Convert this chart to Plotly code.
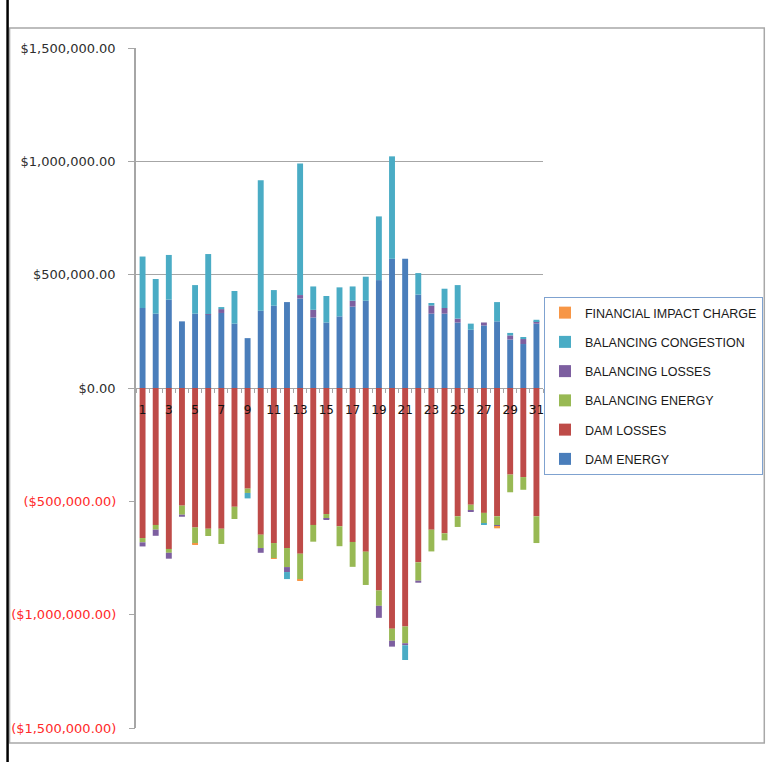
import plotly.graph_objects as go

days = list(range(1, 32))

dam_energy = [353000, 328000, 390000, 294000, 328000, 323000, 331000, 284000, 220000, 341000,
              363000, 379000, 395000, 311000, 289000, 316000, 359000, 385000, 476000, 570000,
              570000, 412000, 328000, 328000, 289000, 257000, 276000, 294000, 214000, 194000, 284000]
dam_losses = [-662000, -604000, -710000, -519000, -615000, -621000, -621000, -524000, -444000, -647000,
              -684000, -706000, -731000, -604000, -556000, -610000, -679000, -722000, -893000, -1062000,
              -1052000, -769000, -625000, -641000, -566000, -515000, -551000, -566000, -382000, -393000, -566000]
balancing_energy = [-19000, -21000, -17000, -40000, -69000, -32000, -67000, -54000, -19000, -59000,
                    -66000, -84000, -115000, -74000, -21000, -88000, -110000, -147000, -68000, -53000,
                    -74000, -81000, -96000, -31000, -47000, -25000, -48000, -40000, -78000, -56000, -118000]
balancing_losses = [-18000, -27000, -26000, -9000, -4000, 3000, 17000, 0, 0, -21000,
                    0, -22000, 15000, 34000, -5000, 0, 26000, 0, -53000, -26000,
                    -9000, -9000, 36000, 25000, 17000, -6000, 13000, -7000, 18000, 22000, 10000]
balancing_congestion = [227000, 153000, 197000, 0, 126000, 265000, 9000, 144000, -24000, 575000,
                        69000, -31000, 580000, 103000, 117000, 128000, 63000, 106000, 281000, 452000,
                        -65000, 95000, 11000, 85000, 148000, 27000, -5000, 85000, 11000, 9000, 7000]
financial_impact = [0, 0, 0, 0, -3000, 0, 0, 0, 0, 0,
                    -3000, 0, -4000, 0, 0, 0, 0, 0, 0, 0,
                    0, 0, 0, 0, 0, 0, 0, -6000, 0, 0, 0]

pos_ticks = [0, 500000, 1000000, 1500000]
neg_ticks = [-500000, -1000000, -1500000]

series = [
    ("DAM ENERGY", dam_energy, "#4A7EBB"),
    ("DAM LOSSES", dam_losses, "#BE4B48"),
    ("BALANCING ENERGY", balancing_energy, "#98B954"),
    ("BALANCING LOSSES", balancing_losses, "#7D5FA0"),
    ("BALANCING CONGESTION", balancing_congestion, "#4AACC5"),
    ("FINANCIAL IMPACT CHARGE", financial_impact, "#F79646"),
]

fig = go.Figure()
for i, (name, vals, color) in enumerate(series):
    fig.add_trace(go.Bar(x=days, y=vals, name=name, marker=dict(color=color, line=dict(width=0)),
                         legendgroup=name, legendrank=1000 - i))

# invisible trace to carry the overlay axis for the negative (red) labels
fig.add_trace(go.Scatter(x=[None], y=[None], yaxis="y2", showlegend=False, hoverinfo="skip"))


def money(v):
    s = "${:,.2f}".format(abs(v))
    return "(" + s + ")" if v < 0 else s


W, H = 775, 762
L, R, T, B = 136, 227, 48, 34
pw, ph = W - L - R, H - T - B


def px(x):
    return (x - L) / pw


def py(y):
    return (H - B - y) / ph


grid = "#A6A6A6"
yrange = [-1500000, 1500000]
fig.update_layout(
    width=W, height=H,
    margin=dict(l=L, r=R, t=T, b=B),
    paper_bgcolor="white", plot_bgcolor="white",
    barmode="relative", bargap=0.55,
    font=dict(family="DejaVu Sans", size=12, color="#222222"),
    xaxis=dict(range=[0.5, 31.5], tickmode="linear", tick0=1, dtick=2,
               anchor="free", position=0.5, showline=False, showgrid=False, zeroline=False,
               ticks="", ticklabelstandoff=13,
               tickfont=dict(family="DejaVu Sans", size=12, color="#111111"),
               minor=dict(tick0=0.5, dtick=1, ticks="outside", ticklen=4, tickcolor=grid, showgrid=False)),
    yaxis=dict(range=yrange, domain=[0, 1], tickvals=pos_ticks, ticktext=[money(v) for v in pos_ticks],
               showgrid=True, gridcolor=grid, gridwidth=1,
               zeroline=True, zerolinecolor=grid, zerolinewidth=1,
               showline=True, linecolor=grid, linewidth=1.5,
               ticks="outside", ticklen=6, tickcolor=grid, ticklabelstandoff=10,
               tickfont=dict(family="DejaVu Sans", size=13, color="#2E2E2E")),
    yaxis2=dict(range=yrange, overlaying="y", side="left", tickvals=neg_ticks,
                ticktext=[money(v) for v in neg_ticks], showgrid=False, zeroline=False, showline=False,
                ticks="outside", ticklen=6, tickcolor=grid, ticklabelstandoff=10,
                tickfont=dict(family="DejaVu Sans", size=13, color="#FF2A2A")),
    legend=dict(x=px(549), y=py(297), xanchor="left", yanchor="top",
                bordercolor="#7FA2D0", borderwidth=1, bgcolor="white",
                traceorder="grouped", tracegroupgap=10,
                font=dict(family="Liberation Sans", size=12.5, color="#1A1A1A")),
    shapes=[
        dict(type="rect", xref="paper", yref="paper", x0=px(8), x1=px(772), y0=py(743), y1=py(28),
             line=dict(color="#A8A8A8", width=1.5), layer="below"),
        dict(type="line", xref="paper", yref="paper", x0=px(6), x1=px(6), y0=py(762), y1=py(0),
             line=dict(color="black", width=2.5)),
    ],
)

fig.write_html("out.html", config={"displayModeBar": False},
               post_script="document.body.style.margin='0';document.body.style.overflow='hidden';")
